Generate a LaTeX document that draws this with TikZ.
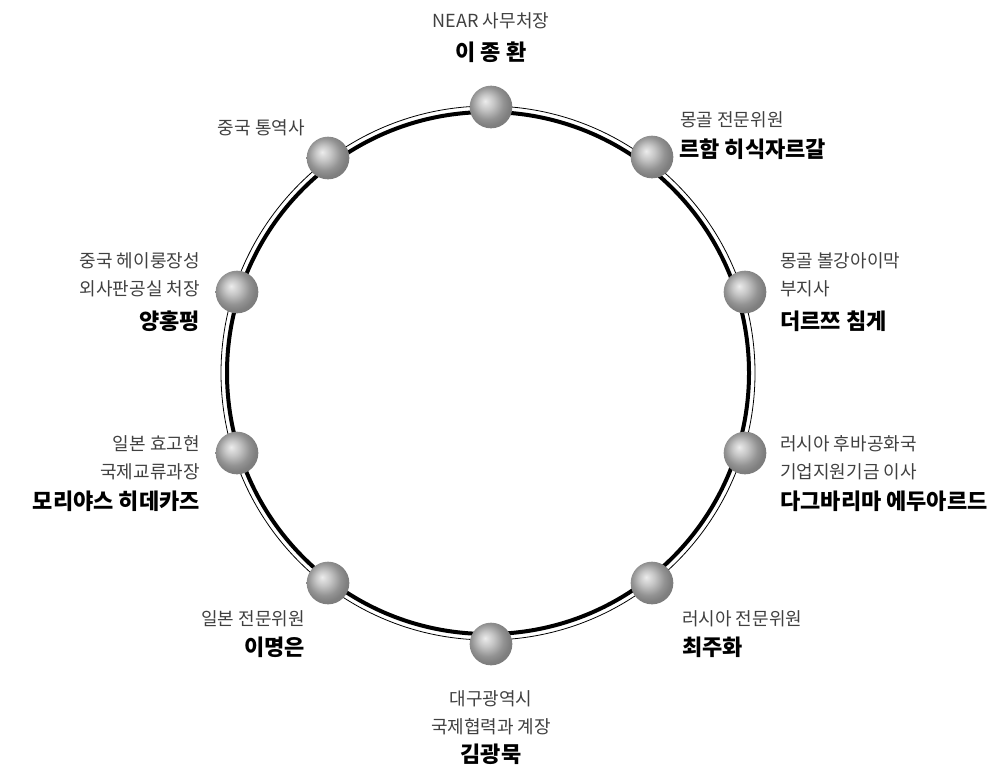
\documentclass[tikz,border=0pt]{standalone}
\usepackage{fontspec}
\setmainfont{Noto Sans CJK KR}
\usepackage{tikz}
\usetikzlibrary{positioning}
\definecolor{postgray}{RGB}{64, 64, 64}
\pgfdeclareradialshading{sphere}{\pgfpoint{-7bp}{7bp}}{color(0bp)=(gray!15); color(9bp)=(gray!45); color(19bp)=(gray!85); color(25bp)=(gray); color(50bp)=(black!60)}

\begin{document}
\begin{tikzpicture}[x=0.75pt, y=-0.75pt,
    ball/.style={circle, inner sep=0pt, minimum size=32pt, shading=sphere},
    post/.style={font=\fontsize{13.5pt}{20.5pt}\selectfont, text=postgray, inner sep=0pt},
    who/.style={font=\fontsize{16.5pt}{20pt}\selectfont\bfseries, inner sep=0pt}]
    \useasboundingbox (0,0) rectangle (991,769);
    \coordinate (ctr) at (488,373);

    % ring
    \draw[line width=3pt] (ctr) circle[radius=261];
    \draw[line width=0.6pt] (ctr) circle[radius=267];

    % members (base of a two-line node = its last line)
    \node[ball] (b1) at (491,107) {};
    \node[post, anchor=base] (p1) at (491,27) {NEAR 사무처장};
    \node[who, anchor=base] (n1) at (491,60) {이 종 환};

    \node[ball] (b2) at (652,157) {};
    \node[post, anchor=base west] (p2) at (680,126) {몽골 전문위원};
    \node[who, anchor=base west] (n2) at (679,157) {르함 히식자르갈};

    \node[ball] (b3) at (745,292) {};
    \node[post, anchor=base west, align=left] (p3) at (780,295) {몽골 볼강아이막\\부지사};
    \node[who, anchor=base west] (n3) at (780,329) {더르쯔 침게};

    \node[ball] (b4) at (745,453) {};
    \node[post, anchor=base west, align=left] (p4) at (780,478) {러시아 후바공화국\\기업지원기금 이사};
    \node[who, anchor=base west] (n4) at (780,509) {다그바리마 에두아르드};

    \node[ball] (b5) at (652,583) {};
    \node[post, anchor=base west] (p5) at (682,625) {러시아 전문위원};
    \node[who, anchor=base west] (n5) at (682,655) {최주화};

    \node[ball] (b6) at (491,644) {};
    \node[post, anchor=base, align=center] (p6) at (491,733) {대구광역시\\국제협력과 계장};
    \node[who, anchor=base] (n6) at (491,762) {김광묵};

    \node[ball] (b7) at (328,583) {};
    \node[post, anchor=base east] (p7) at (305,625) {일본 전문위원};
    \node[who, anchor=base east] (n7) at (305,655) {이명은};

    \node[ball] (b8) at (237,453) {};
    \node[post, anchor=base east, align=right] (p8) at (200,478) {일본 효고현\\국제교류과장};
    \node[who, anchor=base east] (n8) at (200,509) {모리야스 히데카즈};

    \node[ball] (b9) at (237,292) {};
    \node[post, anchor=base east, align=right] (p9) at (200,295) {중국 헤이룽장성\\외사판공실 처장};
    \node[who, anchor=base east] (n9) at (200,329) {양홍펑};

    \node[ball] (b10) at (328,158) {};
    \node[post, anchor=base east] (p10) at (305,134) {중국 통역사};
\end{tikzpicture}
\end{document}
